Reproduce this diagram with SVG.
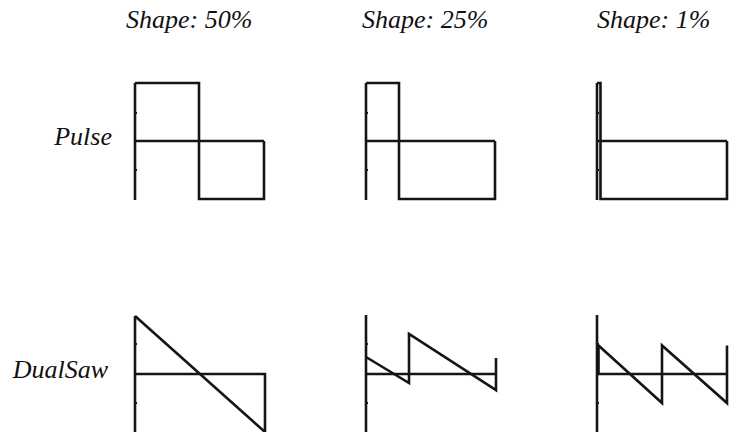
<svg xmlns="http://www.w3.org/2000/svg" width="729" height="432" viewBox="0 0 729 432">
<style>
  text { font-family: "Liberation Serif", "Times New Roman", Times, serif; font-style: italic; font-size: 26px; fill: #111; }
  .w { fill: none; stroke: #151515; stroke-width: 2.6; stroke-linejoin: miter; }
  .t { fill: none; stroke: #151515; stroke-width: 1.8; }
</style>
<rect width="729" height="432" fill="#fff"/>
<g id="headers">
  <text x="126" y="28">Shape: 50%</text>
  <text x="362" y="28">Shape: 25%</text>
  <text x="597" y="28">Shape: 1%</text>
</g>
<g id="row-labels">
  <text x="112" y="145" text-anchor="end">Pulse</text>
  <text x="108" y="378" text-anchor="end">DualSaw</text>
</g>
<g id="pulse-50">
  <path class="w" d="M135,200 V83"/>
  <path class="t" d="M135,113 h2 M135,170 h2"/>
  <path class="w" d="M135,141 H264"/>
  <path class="w" d="M135,83 H199 V199 H264 V141"/>
</g>
<g id="pulse-25">
  <path class="w" d="M366,200 V83"/>
  <path class="t" d="M366,113 h2 M366,170 h2"/>
  <path class="w" d="M366,141 H495"/>
  <path class="w" d="M366,83 H399 V199 H495 V141"/>
</g>
<g id="pulse-1">
  <path class="w" d="M597,200 V83"/>
  <path class="t" d="M597,113 h2 M597,170 h2"/>
  <path class="w" d="M597,141 H727"/>
  <path class="w" d="M597,83 H600.5 V199 H727 V141"/>
</g>
<g id="dualsaw-50">
  <path class="w" d="M135,432 V316"/>
  <path class="t" d="M135,344 h2 M135,403 h2"/>
  <path class="w" d="M135,374 H265 V432"/>
  <path class="w" d="M135,316 L265,432"/>
</g>
<g id="dualsaw-25">
  <path class="w" d="M366,432 V315"/>
  <path class="t" d="M366,344 h2 M366,403 h2"/>
  <path class="w" d="M366,374 H496"/>
  <path class="w" d="M366,357 L409,383 V334 L496,390 V358"/>
</g>
<g id="dualsaw-1">
  <path class="w" d="M597,432 V315"/>
  <path class="t" d="M597,344 h2 M597,403 h2"/>
  <path class="w" d="M597,374 H727"/>
  <path class="w" d="M598.5,374 V345.5 L662,403 V345.5 L727,403 V345.5"/>
</g>
</svg>
